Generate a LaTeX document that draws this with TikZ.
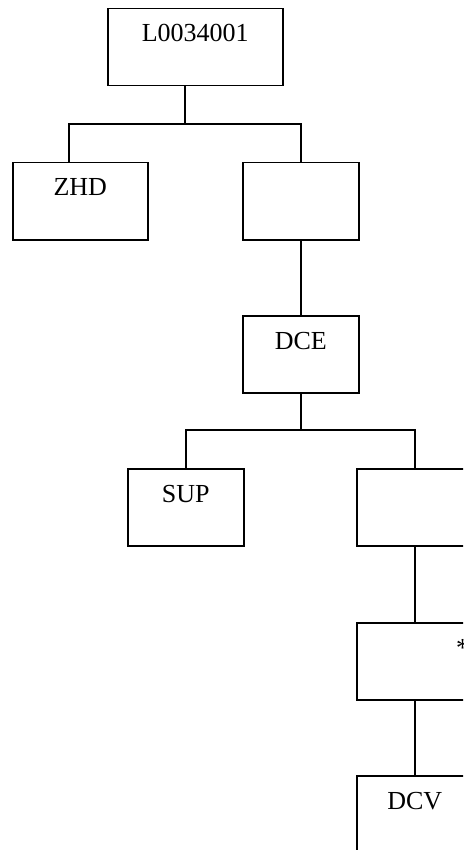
\documentclass[tikz,border=0pt]{standalone}
\usepackage{fontspec}
\setmainfont{Liberation Serif}
\begin{document}
\begin{tikzpicture}[x=1pt,y=-1pt,
  box/.style={draw=black,line width=1.5pt,rectangle,anchor=north west,inner sep=0pt,minimum height=77pt},
  lbl/.style={anchor=base,inner sep=0pt,font=\fontsize{26}{30}\selectfont},
  conn/.style={draw=black,line width=1.5pt}]
\useasboundingbox (0,0) rectangle (463,850);
\clip (0,0) rectangle (463,850);
\fill[white] (0,0) rectangle (463,850);
% boxes
\node[box,minimum width=175pt] (root) at (107,8) {};
\node[box,minimum width=135pt] (zhd) at (12,162) {};
\node[box,minimum width=116pt] (e1) at (242,162) {};
\node[box,minimum width=116pt] (dce) at (242,315) {};
\node[box,minimum width=116pt] (sup) at (127,468) {};
\node[box,minimum width=116pt] (e2) at (356,468) {};
\node[box,minimum width=116pt] (star) at (356,622) {};
\node[box,minimum width=116pt] (dcv) at (356,775) {};
% labels
\node[lbl] (troot) at ([yshift=-34pt]root.north) {L0034001};
\node[lbl] (tzhd) at ([yshift=-34pt]zhd.north) {ZHD};
\node[lbl] (tdce) at ([yshift=-34pt]dce.north) {DCE};
\node[lbl] (tsup) at ([yshift=-34pt]sup.north) {SUP};
\node[lbl,anchor=base west] (tstar) at ([yshift=-34pt]star.north -| 456,0) {*};
\node[lbl] (tdcv) at ([yshift=-34pt]dcv.north) {DCV};
% connectors
\coordinate (y1) at (0,124);
\coordinate (zx) at (69,0);
\coordinate (rx) at (185,0);
\coordinate (b1) at (rx |- y1);
\draw[conn] (root.south -| b1) -- (b1);
\draw[conn] (zhd.north -| zx) |- (b1) -| (e1.north);
\draw[conn] (e1.south) -- (dce.north);
\coordinate (y2) at (0,430);
\coordinate (b2) at (dce.south |- y2);
\draw[conn] (dce.south) -- (b2);
\draw[conn] (sup.north) |- (b2) -| (e2.north);
\draw[conn] (e2.south) -- (star.north);
\draw[conn] (star.south) -- (dcv.north);
\end{tikzpicture}
\end{document}
